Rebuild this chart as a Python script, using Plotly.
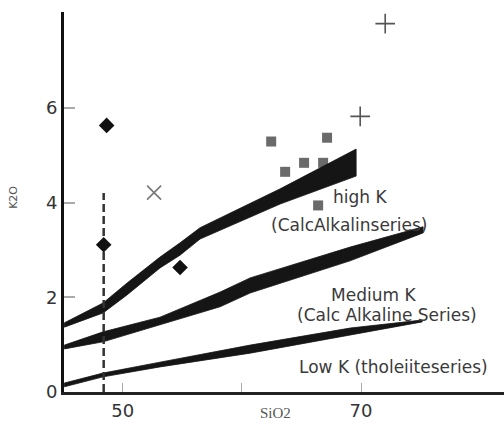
import plotly.graph_objects as go

# K2O vs SiO2 classification bands (upper edge, lower edge)
band_high_x_top = [45.1, 48.35, 50.36, 53.13, 54.81, 56.49, 63.21, 69.59]
band_high_y_top = [1.46, 1.88, 2.30, 2.85, 3.15, 3.47, 4.29, 5.13]
band_high_x_bot = [69.59, 63.21, 56.49, 54.81, 53.13, 50.36, 48.35, 45.1]
band_high_y_bot = [4.56, 3.97, 3.23, 2.89, 2.62, 2.05, 1.67, 1.37]

band_med_x_top = [45.1, 48.35, 53.13, 58.17, 60.69, 69.08, 75.21]
band_med_y_top = [0.99, 1.27, 1.58, 2.11, 2.41, 3.06, 3.49]
band_med_x_bot = [75.21, 69.08, 60.69, 58.17, 53.13, 48.35, 45.1]
band_med_y_bot = [3.36, 2.77, 2.09, 1.80, 1.42, 1.06, 0.91]

band_low_x_top = [45.1, 48.35, 53.13, 60.69, 69.08, 75.13]
band_low_y_top = [0.19, 0.40, 0.63, 0.99, 1.35, 1.52]
band_low_x_bot = [75.13, 69.08, 60.69, 53.13, 48.35, 45.1]
band_low_y_bot = [1.48, 1.20, 0.82, 0.53, 0.32, 0.11]

# sample groups
diamond_sio2 = [48.65, 48.4, 54.81]
diamond_k2o = [5.63, 3.11, 2.63]

square_sio2 = [62.46, 67.15, 63.63, 65.22, 66.82, 66.40]
square_k2o = [5.29, 5.37, 4.65, 4.84, 4.84, 3.94]

cross_sio2 = [52.63]
cross_k2o = [4.21]

plus_sio2 = [72.03, 69.93]
plus_k2o = [7.78, 5.82]

range_sio2 = [48.4, 48.4]
range_k2o = [0.0, 4.2]

# series labels
label_text = ["high K", "(CalcAlkalinseries)", "Medium K",
              "(Calc Alkaline Series)", "Low K (tholeiiteseries)"]
label_sio2 = [69.95, 69.0, 71.05, 72.2, 72.75]
label_k2o = [4.11, 3.53, 2.04, 1.63, 0.53]

x_tickvals = [50, 60, 70]
x_ticktext = ["50", "", "70"]
y_tickvals = [0, 2, 4, 6]
y_ticktext = ["0", "2", "4", "6"]

fig = go.Figure()

# squares sit underneath the bands
fig.add_trace(go.Scatter(
    x=square_sio2, y=square_k2o, mode="markers",
    marker=dict(symbol="square", size=10, color="#6a6a6a"),
    showlegend=False))

for xt, yt, xb, yb in [
    (band_high_x_top, band_high_y_top, band_high_x_bot, band_high_y_bot),
    (band_med_x_top, band_med_y_top, band_med_x_bot, band_med_y_bot),
    (band_low_x_top, band_low_y_top, band_low_x_bot, band_low_y_bot),
]:
    fig.add_trace(go.Scatter(
        x=xt + xb + [xt[0]], y=yt + yb + [yt[0]],
        mode="lines", fill="toself", fillcolor="#151515",
        line=dict(color="#151515", width=0.8),
        showlegend=False, hoverinfo="skip"))

fig.add_trace(go.Scatter(
    x=range_sio2, y=range_k2o, mode="lines",
    line=dict(color="#333333", width=2.5, dash="8px,4px"),
    showlegend=False))

fig.add_trace(go.Scatter(
    x=diamond_sio2, y=diamond_k2o, mode="markers",
    marker=dict(symbol="diamond", size=12, color="#111111"),
    showlegend=False))

fig.add_trace(go.Scatter(
    x=cross_sio2, y=cross_k2o, mode="markers",
    marker=dict(symbol="x-thin", size=14,
                line=dict(color="#777777", width=1.6)),
    showlegend=False))

fig.add_trace(go.Scatter(
    x=plus_sio2, y=plus_k2o, mode="markers",
    marker=dict(symbol="cross-thin", size=14,
                line=dict(color="#555555", width=1.6)),
    showlegend=False))

for t, xv, yv in zip(label_text, label_sio2, label_k2o):
    fig.add_annotation(x=xv, y=yv, text=t, showarrow=False,
                       xanchor="center", yanchor="middle",
                       font=dict(family="DejaVu Sans", size=17, color="#3a3a3a"))

# axis titles
fig.add_annotation(x=62.8, y=0, yshift=-21, text="SiO2", showarrow=False,
                   xanchor="center", yanchor="middle",
                   font=dict(family="Liberation Serif", size=15, color="#555555"))
fig.add_annotation(x=0, xref="paper", xshift=-50, y=4.1, text="K2O",
                   showarrow=False, textangle=-90,
                   xanchor="center", yanchor="middle",
                   font=dict(family="DejaVu Sans", size=11, color="#555555"))

fig.update_xaxes(range=[45.07, 82.0], showgrid=False, zeroline=False,
                 showline=True, linecolor="#222222", linewidth=3,
                 ticks="inside", ticklen=9, tickwidth=1.2, tickcolor="#aaaaaa",
                 tickvals=x_tickvals, ticktext=x_ticktext,
                 tickfont=dict(family="DejaVu Sans", size=18, color="#333333"))
fig.update_yaxes(range=[0, 8.025], showgrid=False, zeroline=False,
                 showline=True, linecolor="#111111", linewidth=3,
                 ticks="inside", ticklen=11, tickwidth=1.5, tickcolor="#aaaaaa",
                 tickvals=y_tickvals, ticktext=y_ticktext,
                 tickfont=dict(family="DejaVu Sans", size=18, color="#333333"))

fig.update_layout(width=504, height=423,
                  margin=dict(l=64, r=0, t=12, b=31),
                  paper_bgcolor="white", plot_bgcolor="white")

fig.write_html("out.html")
